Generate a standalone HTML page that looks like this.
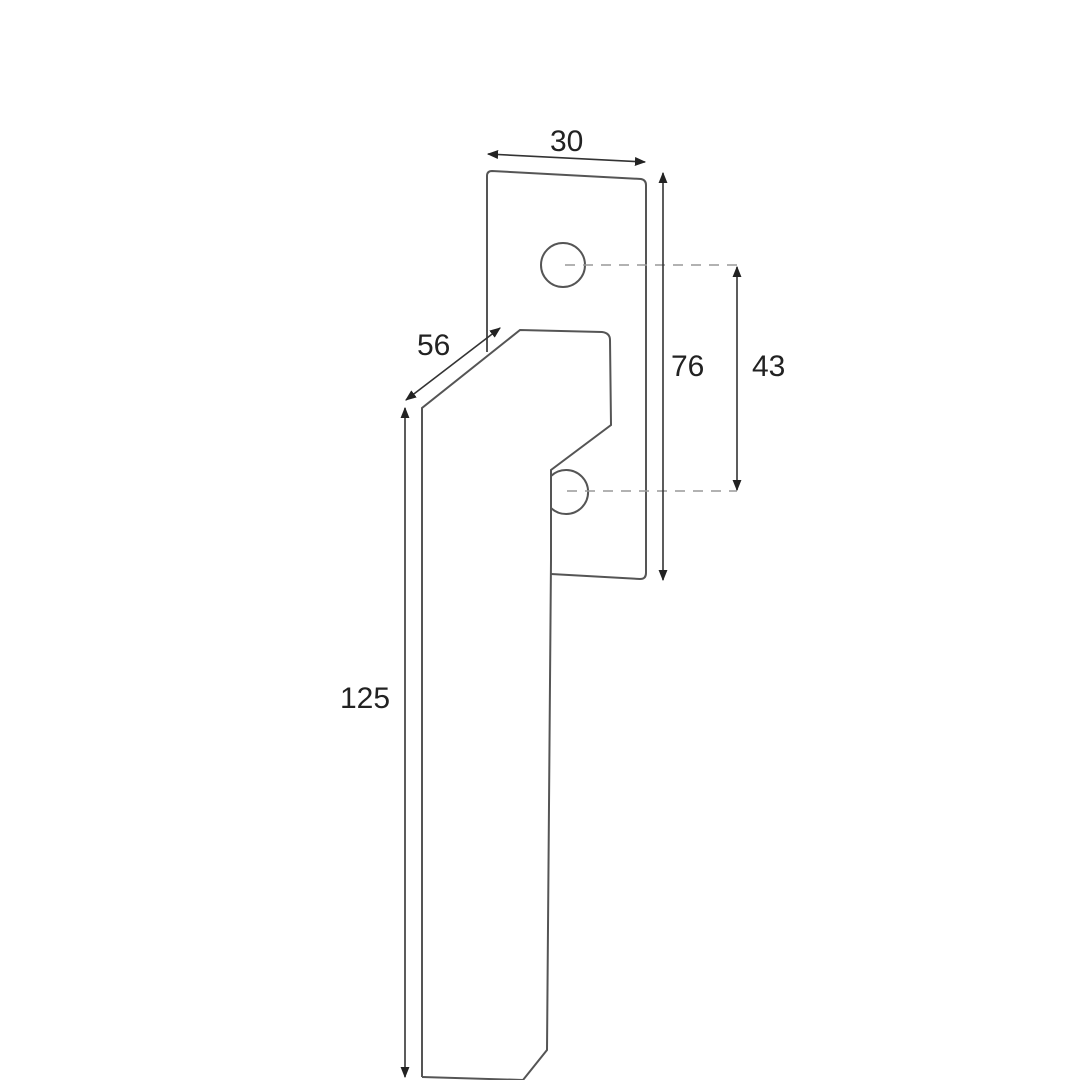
<!DOCTYPE html>
<html><head><style>body{margin:0;background:#fff}</style></head><body>
<svg width="1080" height="1080" viewBox="0 0 1080 1080" xmlns="http://www.w3.org/2000/svg">
<defs><marker id="a" viewBox="0 0 10 10" refX="9" refY="5" markerWidth="7" markerHeight="7" orient="auto-start-reverse"><path d="M0,1 L10,5 L0,9 z" fill="#222"/></marker></defs>
<g fill="none" stroke="#555" stroke-width="2">
<path d="M487,352 L487,176 Q487,171 492,171 L641,179 Q646,180 646,185 L646,573 Q646,579 640,579 L551,574"/>
<path d="M422,1077 L422,408 L520,330 L602,332 Q610,333 610,340 L611,425 L551,470 L551,560 L547,1050 L523,1080"/>
<path d="M422,1077 L523,1080"/>
<circle cx="563" cy="265" r="22"/>
<path d="M551,476 A22,22 0 1,1 551,508"/>
</g>
<g stroke="#999" stroke-width="1.6" stroke-dasharray="10,8">
<line x1="565" y1="265" x2="737" y2="265"/>
<line x1="567" y1="491" x2="737" y2="491"/>
</g>
<g stroke="#333" stroke-width="1.6" marker-start="url(#a)" marker-end="url(#a)">
<line x1="488" y1="154" x2="645" y2="162"/>
<line x1="663" y1="173" x2="663" y2="580"/>
<line x1="737" y1="267" x2="737" y2="490"/>
<line x1="406" y1="400" x2="500" y2="328"/>
<line x1="405" y1="408" x2="405" y2="1077"/>
</g>
<g font-family="Liberation Sans, sans-serif" font-size="30" fill="#222">
<text x="550" y="151">30</text>
<text x="671" y="376">76</text>
<text x="752" y="376">43</text>
<text x="417" y="355">56</text>
<text x="340" y="708">125</text>
</g>
</svg>
</body></html>
